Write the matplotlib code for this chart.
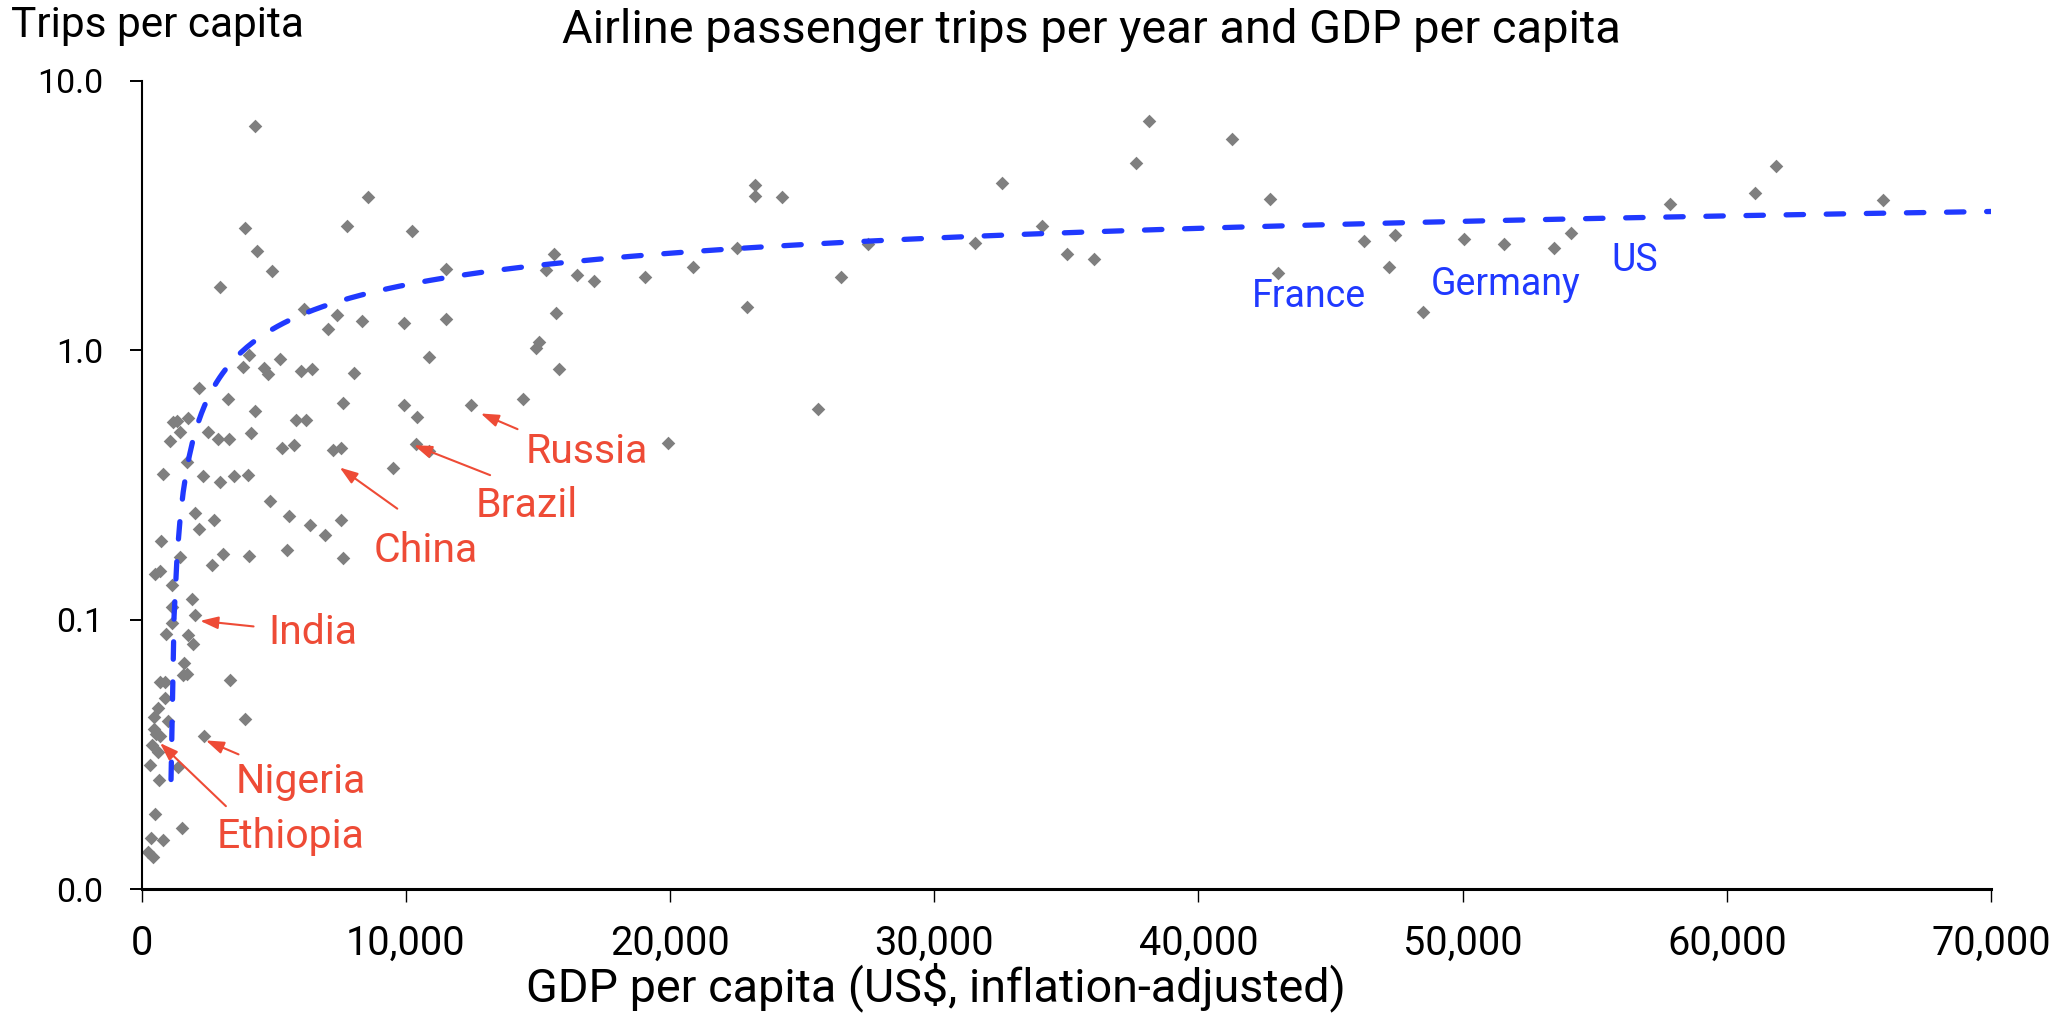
import numpy as np
import matplotlib
matplotlib.use('Agg')
import matplotlib.pyplot as plt
from matplotlib.ticker import FixedLocator, FormatStrFormatter, NullLocator, FuncFormatter

plt.rcParams['font.family'] = ['Roboto', 'DejaVu Sans']

# ------------------------------
# Data
# ------------------------------
gdp_per_capita = [
    # high income
    38138, 41286, 37630, 42712, 35037, 36033, 43004, 46271, 47433, 47215,
    48497, 50050, 51575, 53460, 54117, 57866, 61060, 61860, 65928, 31551,
    32553, 34078,
    # upper middle
    15597, 15307, 16468, 17105, 15668, 15046, 14928, 15800, 14435, 19936,
    19067, 20880, 22549, 23200, 23200, 24219, 22913, 25584, 26472, 27485,
    10217, 11533, 9925, 11533, 10873, 9925, 10432, 12466, 10368, 10873, 9507,
    # lower middle
    4272, 8547, 7763, 3907, 4348, 4932, 2970, 6146, 7397, 7041, 8331, 4059,
    3843, 5220, 4640, 4765, 6017, 6449, 8042, 2174, 3262, 4272, 7610, 1199,
    1768, 1330, 1453, 1074, 2527, 2883, 3323, 4135, 5853, 6233, 5311, 5751,
    7246, 7561, 1731, 797, 2314, 2970, 3475, 4021, 4855,
    5562, 6385, 6954, 7549, 7610, 5512, 4044, 3096, 2678, 2022, 2185, 2754,
    721, 505, 694, 1453, 1161, 1897, 1138, 2022, 1161,
    # low income
    910, 1768, 1958, 1605, 1578, 1707, 694, 884, 3350, 884, 630, 478, 986,
    3919, 478, 694, 531, 2375, 402, 607, 1389, 315, 656, 505, 1517, 353, 797,
    250, 440,
]
trips_per_capita = [
    7.10, 6.06, 4.96, 3.65, 2.27, 2.17, 1.93, 2.54, 2.67, 2.03,
    1.39, 2.58, 2.47, 2.39, 2.72, 3.48, 3.83, 4.81, 3.60, 2.50,
    4.16, 2.90,
    2.27, 1.99, 1.90, 1.81, 1.37, 1.07, 1.02, 0.85, 0.657, 0.451,
    1.87, 2.03, 2.40, 4.09, 3.73, 3.71, 1.44, 0.606, 1.87, 2.48,
    2.77, 2.00, 1.26, 1.30, 0.94, 0.625, 0.565, 0.627, 0.447, 0.422, 0.364,
    6.79, 3.71, 2.90, 2.85, 2.34, 1.96, 1.72, 1.42, 1.35, 1.20, 1.28, 0.958,
    0.867, 0.926, 0.855, 0.813, 0.838, 0.85, 0.824, 0.723, 0.656, 0.594, 0.635, 0.542,
    0.558, 0.548, 0.498, 0.459, 0.498, 0.466, 0.466, 0.491, 0.55, 0.55, 0.432, 0.444,
    0.426, 0.432, 0.383, 0.346, 0.341, 0.324, 0.340, 0.343, 0.276,
    0.242, 0.224, 0.206, 0.235, 0.169, 0.181, 0.172, 0.175, 0.159, 0.248, 0.216, 0.235,
    0.196, 0.148, 0.152, 0.171, 0.134, 0.119, 0.111, 0.104, 0.097,
    0.0882, 0.0875, 0.081, 0.0692, 0.0621, 0.063, 0.0586, 0.0586, 0.0595, 0.0513, 0.0471, 0.0435, 0.0422,
    0.0428, 0.0393, 0.0371, 0.0375, 0.037, 0.0341, 0.0322, 0.0284, 0.0288, 0.0253, 0.0190, 0.0168, 0.0154, 0.0152,
    0.0137, 0.0131,
]

# logarithmic trendline as shown on the chart: y = slope*ln(x) + intercept
trend_slope = 0.783
trend_intercept = -5.465
trend_x_start = 1110
trend_x_end = 70000

x_ticks = [0, 10000, 20000, 30000, 40000, 50000, 60000, 70000]
y_ticks = [0.01, 0.1, 1.0, 10.0]

# red call-outs: (label, arrow tip, arrow tail, text baseline-left)
red_labels = [
    ('India', (2212, 0.0989), (4234, 0.0943), (4803, 0.0810)),
    ('Nigeria', (2428, 0.0356), (3665, 0.0316), (3539, 0.02265)),
    ('Ethiopia', (694, 0.0348), (3187, 0.0203), (2845, 0.01415)),
    ('China', (7496, 0.3667), (9674, 0.258), (8775, 0.1633)),
    ('Brazil', (10304, 0.4438), (13187, 0.3436), (12644, 0.2399)),
    ('Russia', (12834, 0.582), (14226, 0.509), (14514, 0.3805)),
]
blue_labels = [
    ('France', (42006, 1.444)),
    ('Germany', (48797, 1.600)),
    ('US', (55626, 1.965)),
]

RED = '#EE4B36'
BLUE = '#2039FF'
GREY = '#7F7F7F'


def main():
    x = np.array(gdp_per_capita, dtype=float)
    y = np.array(trips_per_capita, dtype=float)

    tx = np.linspace(trend_x_start, trend_x_end, 600)
    ty = trend_slope * np.log(tx) + trend_intercept
    ty = np.where(ty > 0, ty, np.nan)

    fig = plt.figure(figsize=(20.72, 10.16), dpi=100)
    ax = fig.add_axes([0.06839, 0.12500, 0.89252, 0.79557])

    ax.scatter(x, y, marker='D', s=48, color=GREY, linewidths=0, zorder=2)
    ax.plot(tx, ty, color=BLUE, lw=3.8, linestyle=(0, (3.3, 4.3)),
            dash_capstyle='round', zorder=3)

    ax.set_yscale('log')
    ax.set_xlim(0, 70000)
    ax.set_ylim(0.01, 10)

    ax.xaxis.set_major_locator(FixedLocator(x_ticks))
    ax.xaxis.set_major_formatter(FuncFormatter(lambda v, p: f'{int(v):,}'))
    ax.yaxis.set_major_locator(FixedLocator(y_ticks))
    ax.yaxis.set_major_formatter(FormatStrFormatter('%.1f'))
    ax.yaxis.set_minor_locator(NullLocator())

    for side in ['top', 'right']:
        ax.spines[side].set_visible(False)
    ax.spines['left'].set_linewidth(1.5)
    ax.spines['bottom'].set_linewidth(2.2)

    ax.tick_params(axis='x', direction='out', length=9.4, width=1.0,
                   pad=16, labelsize=28.5, colors='black')
    ax.tick_params(axis='y', direction='out', length=8.6, width=1.4,
                   pad=19, labelsize=24.5, colors='black')

    # annotations
    for name, tip, tail, pos in red_labels:
        ax.annotate('', xy=tip, xytext=tail,
                    arrowprops=dict(arrowstyle='-|>,head_length=0.72,head_width=0.25',
                                    color=RED, lw=1.5, shrinkA=0, shrinkB=0,
                                    mutation_scale=15))
        ax.text(pos[0], pos[1], name, color=RED, fontsize=29.5,
                ha='left', va='baseline')
    for name, pos in blue_labels:
        ax.text(pos[0], pos[1], name, color=BLUE, fontsize=27,
                ha='left', va='baseline')

    fig.text(562 / 2072, 1 - 43 / 1016,
             'Airline passenger trips per year and GDP per capita',
             fontsize=33.8, ha='left', va='baseline')
    fig.text(11 / 2072, 1 - 37 / 1016, 'Trips per capita',
             fontsize=30.5, ha='left', va='baseline')
    fig.text(526 / 2072, 1 - 1001 / 1016,
             'GDP per capita (US$, inflation-adjusted)',
             fontsize=33.7, ha='left', va='baseline')

    fig.savefig('out.png', dpi=100)
    plt.close(fig)


if __name__ == '__main__':
    main()
